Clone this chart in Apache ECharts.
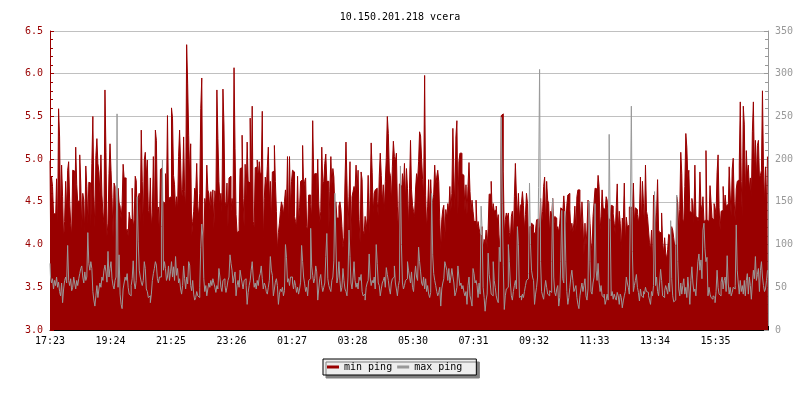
<!DOCTYPE html>
<html><head><meta charset="utf-8">
<script src="https://cdn.jsdelivr.net/npm/echarts@6/dist/echarts.min.js"></script>
<style>html,body{margin:0;padding:0;background:#fff}#c{width:800px;height:400px}</style>
</head><body><div id="c"></div>
<script>
const chartTitle = '10.150.201.218 vcera';
const seriesNames = ['min ping', 'max ping'];
const tickLabels = ['17:23','19:24','21:25','23:26','01:27','03:28','05:30','07:31','09:32','11:33','13:34','15:35'];

// min ping (ms), left axis, one sample per ~2 minutes
const minPing1 = [
4.98,4.25,4.80,4.68,4.36,4.36,4.25,4.77,4.15,5.59,
5.26,4.30,4.93,4.56,4.05,4.27,4.74,4.40,4.87,4.97,
4.50,4.25,4.10,4.87,4.86,4.30,5.14,4.70,4.50,4.52,
5.05,4.72,4.18,4.60,4.52,4.13,4.92,4.68,4.24,4.73,
4.72,4.20,4.95,5.50,4.58,4.20,5.04,5.24,4.95,4.85,
4.60,5.05,4.58,4.37,4.25,5.81,5.08,4.10,4.25,4.83,
5.18,4.87,4.55,4.08,4.72,4.68,4.10,4.40,4.66,4.49,
4.45,4.30,4.46,4.94,4.78,4.78,4.15,4.18,4.10,4.38,
4.30,4.29,4.66,4.20,4.29,4.80,4.75,4.35,4.55,4.60,
4.25,5.34,4.74,4.20,4.99,5.08,4.80,4.99,4.40,4.36,
4.78,4.20,4.37,5.03,4.15,5.34,5.22,4.38,4.44,4.10,
4.88,4.90,4.45,4.50,4.48,4.83,4.55,5.51,4.50,4.55];
const minPing2 = [
4.56,5.60,5.48,4.81,4.70,4.39,4.56,4.41,5.03,5.34,
4.98,4.52,4.64,5.26,4.62,4.43,6.34,5.89,5.28,4.79,
5.18,4.08,4.27,4.39,4.66,4.60,4.95,4.45,4.33,4.60,
5.59,5.95,4.25,3.93,4.54,4.43,4.93,4.64,4.60,4.41,
4.62,4.45,4.64,4.18,4.63,4.52,5.81,5.24,4.74,4.50,
4.60,4.38,5.82,5.40,4.50,4.45,4.72,4.21,4.78,4.80,
4.39,4.54,4.45,6.07,5.12,4.35,4.14,4.16,4.27,4.89,
4.90,5.28,4.54,4.21,4.94,4.56,5.20,4.74,4.72,5.48,
4.62,5.62,4.27,4.21,4.90,4.91,4.99,4.78,4.97,4.81,
4.85,5.56,4.02,4.54,4.79,4.64,4.91,5.14,4.50,4.74,
4.25,4.85,4.86,5.16,4.74,4.39,3.93,4.14,4.25,4.39,
4.50,4.45,4.35,4.50,4.64,4.41,5.03,4.21,5.03,4.41];
const minPing3 = [
4.74,4.87,4.85,4.33,4.27,4.21,4.80,4.25,4.43,4.74,
4.76,5.16,4.65,4.74,4.78,4.21,4.17,4.58,4.58,4.47,
4.31,5.45,4.80,4.83,4.83,4.50,5.00,4.50,4.25,4.39,
5.14,4.70,4.74,4.95,5.06,4.74,4.74,4.17,4.62,5.03,
4.68,4.89,4.79,4.39,4.50,4.31,4.31,4.45,4.50,4.41,
4.21,3.96,4.08,4.72,5.20,4.72,4.14,4.56,4.97,4.03,
4.56,4.62,4.68,4.62,4.93,4.64,4.87,4.29,4.02,4.85,
4.76,4.16,4.12,4.33,4.17,4.31,4.81,4.12,4.61,5.19,
4.84,4.37,4.60,4.64,4.66,4.50,4.33,4.80,5.07,4.81,
4.48,4.70,4.38,4.74,5.02,5.50,5.30,4.86,4.81,4.48,
4.91,5.21,5.03,4.97,5.07,4.45,4.14,4.71,4.69,4.54,
4.83,4.66,4.95,4.52,4.89,4.66,4.21,4.66,5.22,4.64];
const minPing4 = [
4.46,4.39,4.33,4.65,4.83,4.74,4.97,5.32,5.27,5.00,
4.76,4.57,5.98,4.57,4.17,4.45,4.76,4.33,4.76,4.45,
4.52,4.59,4.93,4.68,4.79,4.87,4.74,4.29,3.94,4.29,
4.41,4.46,4.06,4.41,4.31,4.48,4.39,4.68,4.39,4.60,
5.36,4.85,4.41,5.26,5.45,4.35,4.97,5.07,5.07,4.83,
4.81,4.72,4.39,4.70,4.35,4.68,4.96,4.62,4.39,4.52,
4.39,4.27,4.27,4.52,4.19,4.27,4.19,4.12,4.10,4.21,
3.94,4.06,4.02,4.17,3.96,4.19,4.59,4.59,4.74,4.37,
4.48,4.39,4.41,4.45,4.27,4.35,3.98,4.12,5.51,5.53,
4.85,4.10,4.29,4.37,4.31,4.37,4.14,4.06,4.33,4.39,
4.02,4.56,4.95,4.58,4.31,4.60,4.29,4.45,4.48,4.62,
4.46,4.17,4.35,4.60,4.48,4.02,4.21,4.21,4.25,4.23];
const minPing5 = [
4.14,4.13,4.17,4.29,4.30,4.21,4.17,4.54,4.21,4.39,
4.68,4.79,4.21,4.74,4.52,4.48,4.10,4.39,4.33,4.54,
4.21,4.33,4.31,4.17,4.21,4.14,4.25,4.43,4.41,4.37,
4.57,4.39,4.19,4.46,4.58,4.60,4.41,4.16,4.25,4.14,
4.25,4.45,4.16,4.56,4.64,4.64,4.48,4.14,4.50,4.25,
3.88,4.25,3.98,4.17,4.52,4.48,4.25,4.02,3.92,4.33,
4.49,4.66,4.65,4.56,4.81,4.68,4.17,4.33,4.64,4.43,
4.41,4.38,4.56,4.52,4.31,4.29,4.29,4.46,4.45,4.36,
4.25,4.12,4.43,4.71,4.17,4.39,4.25,3.94,4.31,4.25,
4.72,4.02,4.32,4.21,4.23,4.44,4.44,4.17,4.39,4.72,
4.25,4.43,4.41,4.35,4.25,4.37,4.79,4.25,4.74,4.48,
4.21,4.93,4.39,4.33,4.17,4.02,3.94,4.17,3.71,4.58];
const minPing6 = [
4.52,4.17,4.37,4.76,4.17,4.14,4.14,4.37,4.02,3.90,
4.08,3.90,3.83,3.94,4.12,4.10,4.16,4.21,4.17,4.08,
3.98,4.00,4.56,4.48,4.17,4.41,5.08,4.83,4.30,4.25,
4.68,5.30,5.14,4.78,4.87,4.39,4.37,4.54,4.47,4.25,
4.93,4.33,4.31,4.27,4.33,4.85,4.47,4.39,4.56,4.27,
4.29,5.10,4.29,4.27,4.25,4.69,4.50,4.31,4.29,4.48,
4.43,4.35,4.84,5.05,4.43,4.17,4.39,4.40,4.68,4.41,
4.58,4.45,4.47,4.38,4.91,4.58,4.33,4.88,5.01,4.50,
4.27,4.65,4.74,4.76,4.93,5.67,4.74,4.31,5.62,5.41,
4.54,5.10,4.81,4.93,4.64,4.78,4.54,5.32,5.67,4.87,
5.22,4.78,5.16,5.22,4.78,4.81,4.87,5.80,4.93,4.48,
4.91,4.43,5.03];

// max ping (ms), right axis
const maxPing1 = [
78,62,55,60,48,58,52,62,50,56,
45,40,55,32,48,58,62,55,99,58,
52,60,46,50,62,55,48,58,52,60,
66,72,75,62,55,68,58,62,114,78,
70,80,72,45,35,28,40,52,38,48,
55,50,62,58,70,76,68,56,92,62,
72,80,60,52,48,58,62,253,50,88,
42,30,25,48,55,62,58,66,50,42,
40,52,60,81,55,48,58,156,104,70,
62,56,52,58,80,72,48,45,38,40,
32,42,58,66,72,80,76,60,55,62,
62,121,199,70,80,72,58,62,75,58];
const maxPing2 = [
68,80,62,74,58,86,64,72,55,60,
48,42,52,75,60,48,62,54,80,76,
52,46,58,42,35,38,45,40,38,50,
97,124,110,60,45,52,40,48,55,50,
58,52,60,55,50,44,52,48,72,62,
50,45,58,60,52,44,50,58,62,88,
78,70,55,62,68,40,52,58,50,70,
62,55,48,58,60,52,30,44,52,58,
70,80,62,50,55,48,58,52,62,66,
75,60,48,55,52,45,42,50,58,86,
70,64,40,48,56,60,52,30,42,48,
45,50,40,46,100,85,56,60,52,62];
const maxPing3 = [
62,55,48,58,52,44,50,42,48,56,
99,80,62,54,45,50,40,58,60,119,
75,64,55,60,75,68,35,48,60,65,
52,45,50,55,86,113,60,52,48,45,
58,62,81,160,103,55,62,80,58,45,
50,72,58,48,45,40,62,117,86,55,
48,62,80,58,50,55,48,62,58,65,
45,40,42,35,50,55,58,89,62,52,
58,55,62,48,100,78,55,52,40,48,
55,58,62,50,73,65,58,48,42,55,
60,62,75,55,48,40,52,58,192,100,
55,48,52,58,60,80,70,62,55,68];
const maxPing4 = [
50,45,62,75,62,58,97,80,68,55,
52,62,48,60,45,52,42,38,44,160,
88,66,58,52,45,40,44,50,28,48,
55,60,80,75,70,58,72,55,62,72,
63,55,40,44,50,75,62,52,55,48,
52,44,40,45,30,52,62,40,35,28,
72,66,55,58,52,38,55,42,145,117,
50,38,22,35,42,90,65,55,42,40,
80,58,50,40,35,32,97,80,249,148,
75,24,40,48,50,100,80,55,40,35,
45,52,58,48,121,100,38,40,35,42,
38,45,52,58,60,66,172,100,70,62];
const maxPing5 = [
58,30,42,50,62,167,305,80,45,40,
36,48,58,50,42,40,46,44,80,154,
62,44,40,48,52,28,38,80,140,60,
55,139,80,45,30,38,50,62,70,58,
45,48,52,38,30,25,40,48,55,45,
52,60,40,35,48,151,80,45,42,55,
62,148,70,58,78,56,45,52,40,38,
42,30,35,42,35,229,128,40,45,36,
42,38,35,44,40,30,42,38,26,34,
40,45,62,55,50,42,142,262,92,45,
52,58,65,50,44,34,48,40,38,45,
42,50,45,44,40,35,30,45,40,52];
const maxPing6 = [
162,52,62,45,40,55,71,58,40,38,
46,52,48,42,55,45,128,60,40,33,
35,99,158,80,48,40,55,42,52,60,
42,50,38,62,48,30,58,74,55,45,
48,40,62,80,89,70,82,60,117,125,
95,80,85,40,50,42,38,36,40,38,
32,45,70,50,42,40,56,62,48,58,
62,45,87,55,42,50,40,44,50,48,
52,123,70,55,42,58,45,52,42,58,
40,58,66,42,62,52,36,55,70,60,
86,58,65,72,45,70,80,62,52,45,
48,58,70];

const minPing = [].concat(minPing1, minPing2, minPing3, minPing4, minPing5, minPing6);
const maxPing = [].concat(maxPing1, maxPing2, maxPing3, maxPing4, maxPing5, maxPing6);

const FONT = 'DejaVu Sans Mono';
const RED = '#990000';
const GREY = '#999999';
const TICK_STEP = 60;
const X_MAX = 712;

const chart = echarts.init(document.getElementById('c'), null, {renderer: 'canvas'});
chart.setOption({
  animation: false,
  backgroundColor: '#ffffff',
  title: {
    text: chartTitle, left: 'center', top: 7,
    textStyle: {fontFamily: FONT, fontSize: 10, fontWeight: 'normal', color: '#000'}
  },
  legend: {
    left: 323, top: 359, orient: 'horizontal',
    icon: 'rect', itemWidth: 12, itemHeight: 3, itemGap: 5,
    padding: [3, 14, 3, 4],
    backgroundColor: '#eeeeee', borderColor: '#000', borderWidth: 1, borderRadius: 0,
    shadowColor: '#808080', shadowOffsetX: 3, shadowOffsetY: 3, shadowBlur: 0,
    textStyle: {fontFamily: FONT, fontSize: 10, color: '#000'},
    data: seriesNames
  },
  grid: {left: 50, right: 32, top: 31, bottom: 70},
  xAxis: {
    type: 'value', min: 0, max: X_MAX, interval: TICK_STEP,
    axisLine: {show: true, lineStyle: {color: '#000'}},
    axisTick: {show: true, inside: true, length: 4, lineStyle: {color: '#000'}},
    axisLabel: {
      margin: 6, fontFamily: FONT, fontSize: 10, color: '#000',
      formatter: v => (v % TICK_STEP === 0 ? (tickLabels[v / TICK_STEP] || '') : '')
    },
    splitLine: {show: false}
  },
  yAxis: [{
    type: 'value', min: 3, max: 6.5, interval: 0.5, position: 'left',
    axisLine: {show: true, lineStyle: {color: RED}},
    axisTick: {show: true, inside: true, length: 4, lineStyle: {color: RED}},
    minorTick: {show: true, splitNumber: 5, length: 3, lineStyle: {color: RED}},
    axisLabel: {color: RED, fontFamily: FONT, fontSize: 10, margin: 7, formatter: v => v.toFixed(1)},
    splitLine: {show: true, lineStyle: {color: '#c0c0c0', width: 1}}
  }, {
    type: 'value', min: 0, max: 350, interval: 50, position: 'right',
    axisLine: {show: true, lineStyle: {color: GREY}},
    axisTick: {show: true, inside: true, length: 4, lineStyle: {color: GREY}},
    minorTick: {show: true, splitNumber: 5, length: 3, lineStyle: {color: GREY}},
    axisLabel: {color: GREY, fontFamily: FONT, fontSize: 10, margin: 7},
    splitLine: {show: false}
  }],
  series: [{
    name: seriesNames[0], type: 'line', yAxisIndex: 0,
    data: minPing.map((v, i) => [i, v]),
    step: 'middle', symbol: 'none', showSymbol: false,
    lineStyle: {width: 1, color: RED}, itemStyle: {color: RED},
    areaStyle: {color: RED, opacity: 1, origin: 'start'}
  }, {
    name: seriesNames[1], type: 'line', yAxisIndex: 1,
    data: maxPing.map((v, i) => [i, v]),
    step: 'middle', symbol: 'none', showSymbol: false,
    lineStyle: {width: 1, color: GREY}, itemStyle: {color: GREY}
  }]
});
</script>
</body></html>
